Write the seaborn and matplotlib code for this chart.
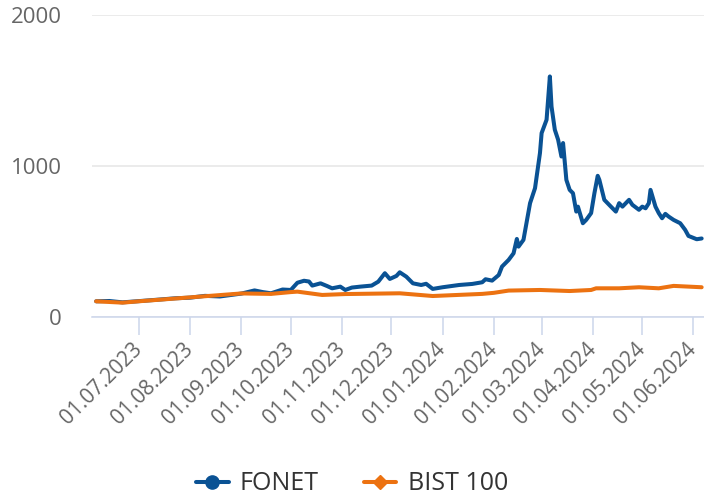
import matplotlib
matplotlib.use('Agg')
import matplotlib.pyplot as plt
from matplotlib.lines import Line2D
import seaborn as sns
import pandas as pd

fonet_dates = [
    '2023-06-05', '2023-06-13', '2023-06-21', '2023-07-02', '2023-07-14', '2023-07-23',
    '2023-08-01', '2023-08-10', '2023-08-19', '2023-09-01', '2023-09-09', '2023-09-14',
    '2023-09-19', '2023-09-26', '2023-10-01', '2023-10-05', '2023-10-09', '2023-10-12',
    '2023-10-14', '2023-10-19', '2023-10-23', '2023-10-26', '2023-10-31', '2023-11-03',
    '2023-11-07', '2023-11-12', '2023-11-19', '2023-11-23', '2023-11-27', '2023-11-30',
    '2023-12-04', '2023-12-06', '2023-12-10', '2023-12-14', '2023-12-19', '2023-12-22',
    '2023-12-26', '2024-01-01', '2024-01-11', '2024-01-19', '2024-01-25', '2024-01-27',
    '2024-01-31', '2024-02-04', '2024-02-06', '2024-02-10', '2024-02-13', '2024-02-15',
    '2024-02-16', '2024-02-19', '2024-02-23', '2024-02-26', '2024-02-29', '2024-03-01',
    '2024-03-04', '2024-03-06', '2024-03-07', '2024-03-09', '2024-03-11', '2024-03-13',
    '2024-03-14', '2024-03-16', '2024-03-18', '2024-03-20', '2024-03-22', '2024-03-23',
    '2024-03-26', '2024-03-28', '2024-03-31', '2024-04-02', '2024-04-04', '2024-04-05',
    '2024-04-08', '2024-04-12', '2024-04-15', '2024-04-17', '2024-04-19', '2024-04-23',
    '2024-04-25', '2024-04-29', '2024-05-01', '2024-05-03', '2024-05-05', '2024-05-06',
    '2024-05-09', '2024-05-11', '2024-05-13', '2024-05-15', '2024-05-17', '2024-05-20',
    '2024-05-22', '2024-05-24', '2024-05-27', '2024-05-29', '2024-06-03', '2024-06-06',
]
fonet_values = [
    104, 106, 97, 106, 116, 124,
    128, 140, 136, 155, 176, 165,
    157, 182, 179, 227, 240, 235,
    208, 223, 205, 190, 201, 179,
    195, 201, 208, 234, 290, 252,
    272, 296, 267, 223, 212, 220,
    186, 197, 212, 219, 230, 250,
    241, 278, 334, 378, 422, 517,
    466, 511, 754, 853, 1086, 1218,
    1306, 1593, 1394, 1240, 1174, 1063,
    1152, 908, 842, 820, 698, 731,
    621, 643, 688, 820, 935, 908,
    776, 731, 698, 754, 731, 776,
    743, 710, 731, 720, 754, 842,
    731, 688, 654, 683, 665, 643,
    632, 621, 577, 537, 515, 520,
]

bist_dates = [
    '2023-06-05', '2023-06-21', '2023-07-02', '2023-08-01', '2023-09-01', '2023-09-19',
    '2023-10-01', '2023-10-05', '2023-10-20', '2023-11-03', '2023-12-06', '2023-12-26',
    '2024-01-25', '2024-02-01', '2024-02-10', '2024-02-29', '2024-03-18', '2024-03-31',
    '2024-04-03', '2024-04-17', '2024-04-29', '2024-05-11', '2024-05-20', '2024-06-06',
]
bist_values = [
    104, 95, 105, 130, 156, 153,
    165, 168, 146, 152, 157, 139,
    153, 160, 175, 179, 172, 179,
    190, 190, 197, 190, 206, 197,
]

month_ticks = ['2023-07-01', '2023-08-01', '2023-09-01', '2023-10-01', '2023-11-01',
               '2023-12-01', '2024-01-01', '2024-02-01', '2024-03-01', '2024-04-01',
               '2024-05-01', '2024-06-01']

blue = '#0a5294'
orange = '#ec7211'

df = pd.concat([
    pd.DataFrame({'date': pd.to_datetime(fonet_dates), 'value': fonet_values, 'series': 'FONET'}),
    pd.DataFrame({'date': pd.to_datetime(bist_dates), 'value': bist_values, 'series': 'BIST 100'}),
], ignore_index=True)

sns.set_theme(style='white')
plt.rcParams['font.family'] = ['Open Sans', 'DejaVu Sans']

fig = plt.figure(figsize=(7.04, 4.99), dpi=100)
ax = fig.add_axes([92 / 704, 1 - 317 / 499, 612 / 704, 302 / 499])

sns.lineplot(data=df, x='date', y='value', hue='series', hue_order=['FONET', 'BIST 100'],
             palette={'FONET': blue, 'BIST 100': orange}, linewidth=2.9, ax=ax,
             legend=False, solid_joinstyle='round', solid_capstyle='round')

ax.set_ylim(0, 2000)
ax.set_yticks([0, 1000, 2000])
ax.set_xlim(pd.Timestamp('2023-06-02 12:00'), pd.Timestamp('2024-06-07 10:00'))
ax.yaxis.grid(True, color='#e6e6e6', linewidth=1.1)
ax.set_axisbelow(True)
for s in ['top', 'right', 'left']:
    ax.spines[s].set_visible(False)
ax.spines['bottom'].set_color('#ccd6eb')
ax.spines['bottom'].set_linewidth(1.1)
ax.set_xlabel('')
ax.set_ylabel('')

ticks = pd.to_datetime(month_ticks)
ax.set_xticks(ticks)
ax.set_xticklabels([t.strftime('%d.%m.%Y') for t in ticks], rotation=45, ha='right',
                   va='center', rotation_mode='anchor')
ax.tick_params(axis='x', bottom=True, length=13, width=1.1, color='#ccd6eb', pad=8,
               labelsize=15, labelcolor='#666666')
ax.tick_params(axis='y', left=False, length=0, pad=22, labelsize=16, labelcolor='#666666')

handles = [Line2D([0], [0], color=blue, lw=2.9, marker='o', markersize=9.5),
           Line2D([0], [0], color=orange, lw=2.9, marker='D', markersize=7.5)]
fig.legend(handles, ['FONET', 'BIST 100'], loc='center', bbox_to_anchor=(0.5, 15 / 499),
           ncol=2, frameon=False, fontsize=18, handlelength=1.3, handletextpad=0.45,
           columnspacing=1.8, labelcolor='#333333')

fig.savefig('out.png', dpi=100)
